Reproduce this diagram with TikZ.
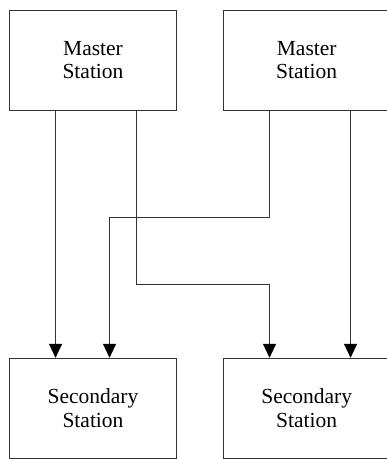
\documentclass[tikz,border=0pt]{standalone}
\usepackage{fontspec}
\setmainfont{Liberation Serif}
\usetikzlibrary{arrows.meta}
\begin{document}
\begin{tikzpicture}[x=1pt,y=-1pt,
  station/.style={draw=black!80,line width=0.9pt,rectangle,minimum width=167.4pt,minimum height=100pt,inner sep=0pt,align=center,font=\fontsize{21.5}{23.5}\selectfont},
  link/.style={draw=black!80,line width=0.9pt,-{Triangle[length=14pt,width=13pt,fill=black,color=black]}}]
\useasboundingbox (0,0) rectangle (387,459);
\clip (0,0) rectangle (387,459);
\node[station] (m1) at (93,60) {Master\\Station};
\node[station] (m2) at (306.7,60) {Master\\Station};
\node[station,minimum height=99.7pt] (s1) at (93,408.15) {Secondary\\Station};
\node[station,minimum height=99.7pt] (s2) at (306.7,408.15) {Secondary\\Station};
\coordinate (h1) at (200,217.3);
\coordinate (h2) at (200,284.7);
\draw[link] ([xshift=46.7pt]m1.south west) -- ([xshift=46.7pt]s1.north west);
\draw[link] ([xshift=127.4pt]m1.south west) |- (h2) -| ([xshift=47pt]s2.north west);
\draw[link] ([xshift=47pt]m2.south west) |- (h1) -| ([xshift=100.7pt]s1.north west);
\draw[link] ([xshift=128pt]m2.south west) -- ([xshift=128pt]s2.north west);
\end{tikzpicture}
\end{document}
